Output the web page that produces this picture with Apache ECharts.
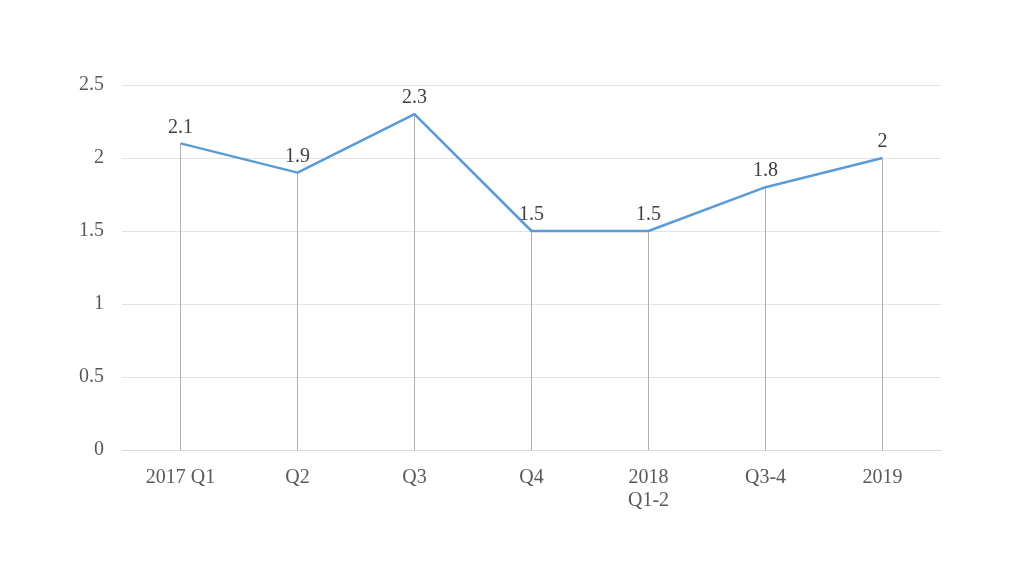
<!DOCTYPE html>
<html>
<head>
<meta charset="utf-8">
<script src="https://cdn.jsdelivr.net/npm/echarts@6/dist/echarts.min.js"></script>
<style>
  html, body { margin: 0; padding: 0; background: #fff; }
  #chart { width: 1024px; height: 576px; }
</style>
</head>
<body>
<div id="chart"></div>
<script>
const categories = ['2017 Q1', 'Q2', 'Q3', 'Q4', '2018\nQ1-2', 'Q3-4', '2019']
const values = [2.1, 1.9, 2.3, 1.5, 1.5, 1.8, 2]

const font = '"Liberation Serif", "Times New Roman", serif'
const chart = echarts.init(document.getElementById('chart'))

chart.setOption({
  animation: false,
  grid: { left: 122, right: 83, top: 85, bottom: 126 },
  xAxis: {
    type: 'category',
    data: categories,
    boundaryGap: true,
    axisLine: { lineStyle: { color: '#d9d9d9', width: 1 } },
    axisTick: { show: false },
    axisLabel: { color: '#595959', fontFamily: font, fontSize: 20, margin: 16, lineHeight: 23 }
  },
  yAxis: {
    type: 'value',
    min: 0,
    max: 2.5,
    interval: 0.5,
    axisLine: { show: false },
    axisTick: { show: false },
    splitLine: { lineStyle: { color: '#e3e3e3', width: 1 } },
    axisLabel: { color: '#595959', fontFamily: font, fontSize: 20, margin: 18 }
  },
  series: [
    {
      // drop lines
      type: 'bar',
      data: values,
      barWidth: 1,
      itemStyle: { color: '#b0b0b0' },
      silent: true,
      z: 1
    },
    {
      type: 'line',
      data: values,
      symbol: 'circle',
      symbolSize: 0,
      showSymbol: true,
      lineStyle: { color: '#5b9bd5', width: 2.5 },
      label: {
        show: true,
        position: 'top',
        distance: 6,
        color: '#404040',
        fontFamily: font,
        fontSize: 20
      },
      labelLayout: { hideOverlap: false },
      z: 3
    }
  ]
})
</script>
</body>
</html>
